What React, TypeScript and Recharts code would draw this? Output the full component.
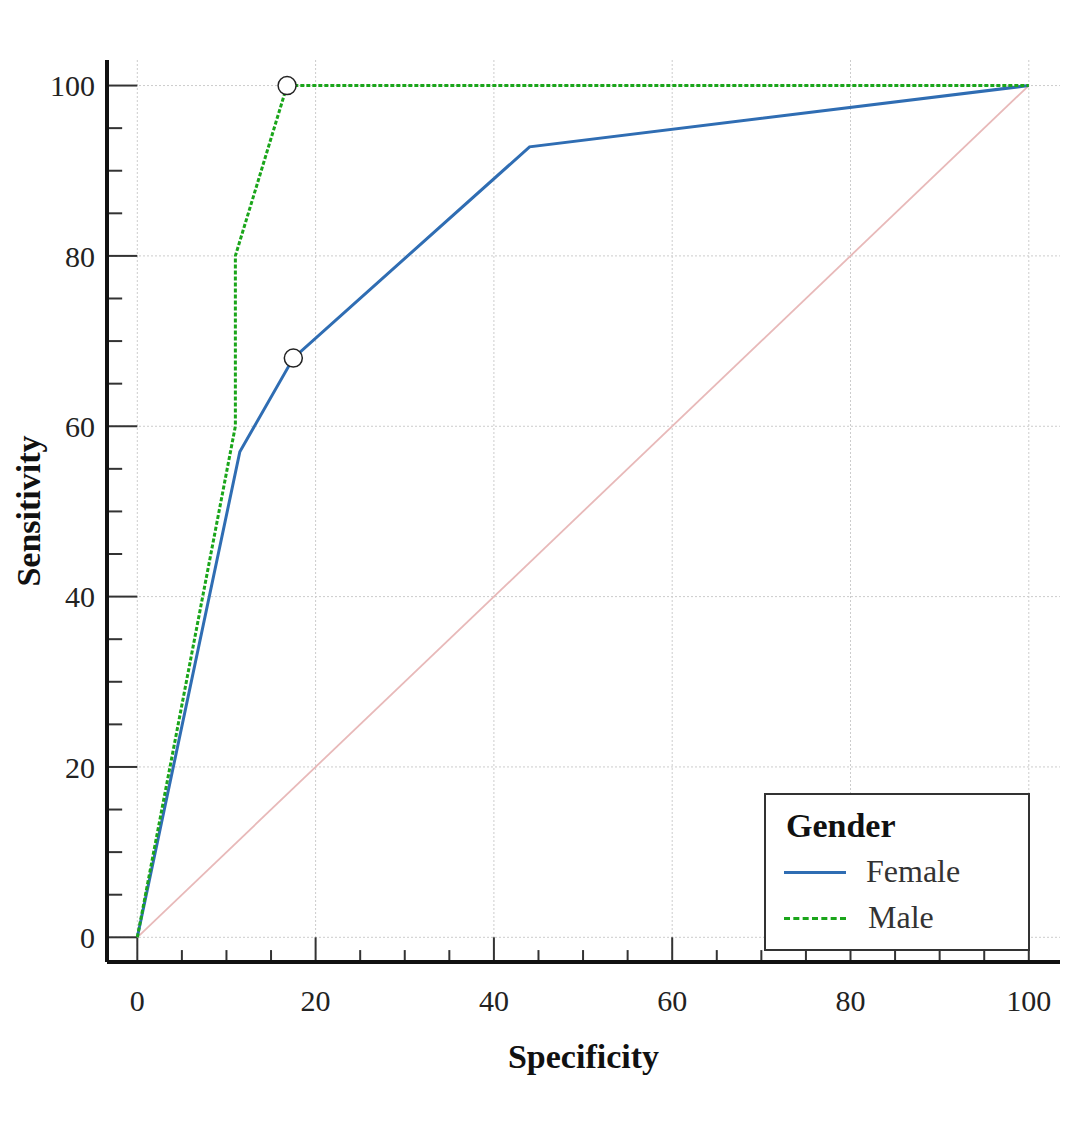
import React from "react";
import { ComposedChart, Line, Scatter, XAxis, YAxis, CartesianGrid, ReferenceLine } from "recharts";

const femaleX = [0, 11.5, 17.5, 44, 100];
const femaleY = [0, 57, 68, 92.8, 100];
const maleX = [0, 11, 11, 16.8, 100];
const maleY = [0, 60, 80, 100, 100];
const diagX = [0, 100];
const diagY = [0, 100];
const cutX = [17.5, 16.8];
const cutY = [68, 100];
const majorTicks = [0, 20, 40, 60, 80, 100];
const minorTicks = [5, 10, 15, 25, 30, 35, 45, 50, 55, 65, 70, 75, 85, 90, 95];

const zip = (xs: number[], ys: number[]) => xs.map((x, i) => ({ x, y: ys[i] }));
const female = zip(femaleX, femaleY);
const male = zip(maleX, maleY);
const diag = zip(diagX, diagY);
const cuts = zip(cutX, cutY);

const XMIN = -3.4, XMAX = 103.5, YMIN = -2.9, YMAX = 103;
const font = "'Liberation Serif', 'DejaVu Serif', serif";

const scaleOf = (ax: any) => {
  const s = ax && ax.scale;
  if (!s) return null;
  return typeof s === "function" ? s : s.map ? (v: number) => s.map(v) : null;
};

export default function App() {
  const tickStyle = { fontFamily: font, fontSize: 30, fill: "#222" };
  return (
    <div style={{ position: "absolute", left: 0, top: 0, width: 1065, height: 1137, background: "#fff" }}>
      <ComposedChart width={1065} height={1137} margin={{ top: 60, right: 5, left: 0, bottom: 0 }}>
        <CartesianGrid stroke="#ccc" strokeDasharray="2 2"
          horizontalCoordinatesGenerator={(p: any) => {
            const f = scaleOf(p.yAxis);
            return f ? majorTicks.map((v) => f(v)) : [];
          }}
          verticalCoordinatesGenerator={(p: any) => {
            const f = scaleOf(p.xAxis);
            return f ? majorTicks.map((v) => f(v)) : [];
          }} />
        <XAxis type="number" dataKey="x" domain={[XMIN, XMAX]} ticks={majorTicks} allowDataOverflow
          height={175} tickLine={false} axisLine={{ stroke: "#111", strokeWidth: 4 }}
          tick={tickStyle} tickMargin={22}
          label={{ value: "Specificity", position: "insideTop", offset: 82, style: { fontFamily: font, fontSize: 34, fontWeight: "bold", fill: "#111" } }} />
        <YAxis type="number" dataKey="y" domain={[YMIN, YMAX]} ticks={majorTicks} allowDataOverflow
          width={107} tickLine={false} axisLine={{ stroke: "#111", strokeWidth: 4 }}
          tick={tickStyle} tickMargin={6}
          label={{ value: "Sensitivity", angle: -90, position: "insideLeft", offset: 28, style: { fontFamily: font, fontSize: 34, fontWeight: "bold", fill: "#111", textAnchor: "middle" } }} />
        {majorTicks.map((v) => (
          <ReferenceLine key={"xm" + v} segment={[{ x: v, y: YMIN }, { x: v, y: 0 }]} stroke="#333" strokeWidth={2} ifOverflow="visible" />
        ))}
        {minorTicks.map((v) => (
          <ReferenceLine key={"xn" + v} segment={[{ x: v, y: YMIN }, { x: v, y: -1.5 }]} stroke="#333" strokeWidth={2} ifOverflow="visible" />
        ))}
        {majorTicks.map((v) => (
          <ReferenceLine key={"ym" + v} segment={[{ x: XMIN, y: v }, { x: 0, y: v }]} stroke="#333" strokeWidth={2} ifOverflow="visible" />
        ))}
        {minorTicks.map((v) => (
          <ReferenceLine key={"yn" + v} segment={[{ x: XMIN, y: v }, { x: -1.7, y: v }]} stroke="#333" strokeWidth={2} ifOverflow="visible" />
        ))}
        <Line data={diag} dataKey="y" stroke="#e8b9b9" strokeWidth={1.8} dot={false} isAnimationActive={false} />
        <Line data={female} dataKey="y" stroke="#2f6db3" strokeWidth={3} dot={false} isAnimationActive={false} />
        <Line data={male} dataKey="y" stroke="#1aa51a" strokeWidth={3} strokeDasharray="4 2" dot={false} isAnimationActive={false} />
        <Scatter data={cuts} dataKey="y" fill="#fff" stroke="#222" strokeWidth={1.5}
          shape={(p: any) => <circle cx={p.cx} cy={p.cy} r={9} fill="#fff" stroke="#222" strokeWidth={1.5} />}
          isAnimationActive={false} />
      </ComposedChart>
      <div style={{ position: "absolute", left: 764, top: 793, width: 262, height: 154, border: "2px solid #333", background: "#fff", fontFamily: font }}>
        <div style={{ position: "absolute", left: 20, top: 12, fontSize: 34, fontWeight: "bold", color: "#111" }}>Gender</div>
        <div style={{ position: "absolute", left: 18, top: 76, width: 62, borderTop: "3px solid #2f6db3" }} />
        <div style={{ position: "absolute", left: 100, top: 58, fontSize: 32, color: "#333" }}>Female</div>
        <div style={{ position: "absolute", left: 18, top: 122, width: 62, borderTop: "3px dashed #1aa51a" }} />
        <div style={{ position: "absolute", left: 102, top: 104, fontSize: 32, color: "#333" }}>Male</div>
      </div>
    </div>
  );
}
